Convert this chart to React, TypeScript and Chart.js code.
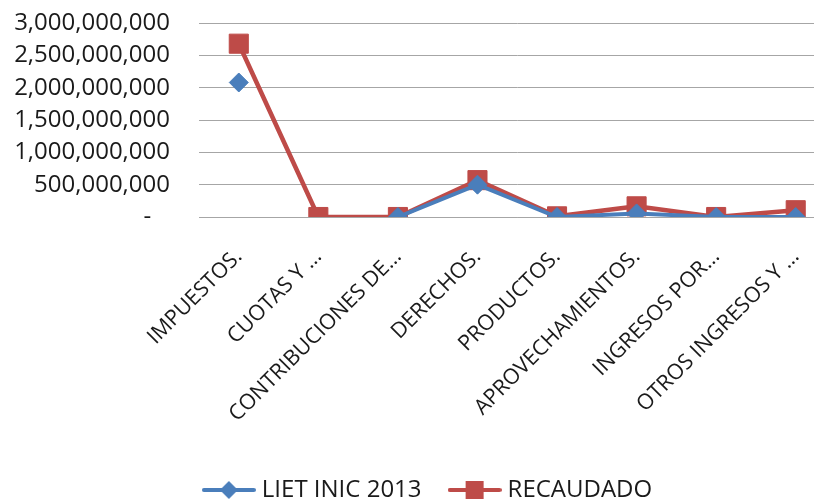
import React, { useEffect, useRef } from 'react';
import { Chart, registerables } from 'chart.js';

Chart.register(...registerables);

const categories = [
  'IMPUESTOS.',
  'CUOTAS Y …',
  'CONTRIBUCIONES DE…',
  'DERECHOS.',
  'PRODUCTOS.',
  'APROVECHAMIENTOS.',
  'INGRESOS POR…',
  'OTROS INGRESOS Y …',
];
const seriesNames = ['LIET INIC 2013', 'RECAUDADO'];
const lietInic2013: (number | null)[] = [2080000000, null, 0, 500000000, 0, 55000000, 0, 0];
const recaudado = [2680000000, 0, 0, 570000000, 10000000, 165000000, 0, 105000000];
const yTicks = [0, 500000000, 1000000000, 1500000000, 2000000000, 2500000000, 3000000000];

const BLUE = '#4A7EBB';
const RED = '#BE4B48';
const FONT = '"Open Sans"';
const TEXT = '#1a1a1a';

function legendImage(color: string, kind: 'diamond' | 'square'): HTMLCanvasElement {
  const c = document.createElement('canvas');
  c.width = 54;
  c.height = 22;
  const g = c.getContext('2d')!;
  g.strokeStyle = color;
  g.lineWidth = 4;
  g.lineCap = 'round';
  g.beginPath();
  g.moveTo(2, 11);
  g.lineTo(52, 11);
  g.stroke();
  g.fillStyle = color;
  g.beginPath();
  if (kind === 'diamond') {
    g.moveTo(27, 2);
    g.lineTo(36, 11);
    g.lineTo(27, 20);
    g.lineTo(18, 11);
    g.closePath();
  } else {
    g.rect(18, 2, 18, 18);
  }
  g.fill();
  return c;
}

// let the y tick labels use the full left margin (no clipping at the scale's left edge)
const unclipYLabels = {
  id: 'unclipYLabels',
  afterLayout(chart: any) {
    const y = chart.scales.y;
    if (y) y.left = 0;
  },
};

export default function App() {
  const ref = useRef<HTMLCanvasElement>(null);

  useEffect(() => {
    if (!ref.current) return;
    const imgs = [legendImage(BLUE, 'diamond'), legendImage(RED, 'square')];
    const chart = new Chart(ref.current, {
      type: 'line',
      plugins: [unclipYLabels],
      data: {
        labels: categories,
        datasets: [
          {
            label: seriesNames[0],
            data: lietInic2013,
            borderColor: BLUE,
            backgroundColor: BLUE,
            borderWidth: 4,
            pointStyle: 'rectRot',
            pointRadius: 9.5,
            pointBorderWidth: 1,
            pointBackgroundColor: BLUE,
            pointBorderColor: BLUE,
            tension: 0,
            spanGaps: false,
          },
          {
            label: seriesNames[1],
            data: recaudado,
            borderColor: RED,
            backgroundColor: RED,
            borderWidth: 4.5,
            pointStyle: 'rect',
            pointRadius: 13.5,
            pointBorderWidth: 1,
            pointBackgroundColor: RED,
            pointBorderColor: RED,
            tension: 0,
          },
        ],
      },
      options: {
        animation: false,
        responsive: false,
        maintainAspectRatio: false,
        layout: { padding: { top: 23, right: 10, left: 20, bottom: -10 } },
        plugins: {
          tooltip: { enabled: false },
          legend: {
            display: true,
            position: 'bottom',
            labels: {
              usePointStyle: true,
              pointStyleWidth: 42,
              padding: 32,
              color: TEXT,
              font: { family: FONT, size: 24 },
              generateLabels: (ch: any) =>
                ch.data.datasets.map((ds: any, i: number) => ({
                  text: ds.label,
                  fillStyle: ds.borderColor,
                  strokeStyle: ds.borderColor,
                  lineWidth: 0,
                  pointStyle: imgs[i],
                  hidden: false,
                  datasetIndex: i,
                  fontColor: TEXT,
                })),
            },
          },
        },
        scales: {
          x: {
            offset: true,
            grid: { display: false, drawTicks: false },
            border: { display: true, color: '#a6a6a6' },
            ticks: {
              autoSkip: false,
              minRotation: 45,
              maxRotation: 45,
              padding: 27,
              color: TEXT,
              font: { family: FONT, size: 21.5 },
            },
            afterFit: (s: any) => {
              s.height = 229;
            },
          },
          y: {
            min: 0,
            max: 3000000000,
            afterBuildTicks: (s: any) => {
              s.ticks = yTicks.map((v) => ({ value: v }));
            },
            grid: { color: '#a6a6a6', lineWidth: 1, drawTicks: true, tickLength: 29, tickColor: 'rgba(0,0,0,0)' },
            border: { display: false },
            ticks: {
              autoSkip: false,
              padding: 0,
              color: TEXT,
              font: { family: FONT, size: 24 },
              callback: (v: any) => (Number(v) === 0 ? '-   ' : Number(v).toLocaleString('en-US')),
            },
            afterFit: (s: any) => {
              s.width = 179;
            },
          },
        },
      },
    });
    return () => chart.destroy();
  }, []);

  return (
    <div style={{ position: 'fixed', left: 0, top: 0, width: 814, height: 502, overflow: 'hidden', background: '#fff' }}>
      <canvas ref={ref} width={850} height={502} style={{ display: 'block', width: 850, height: 502 }} />
    </div>
  );
}
